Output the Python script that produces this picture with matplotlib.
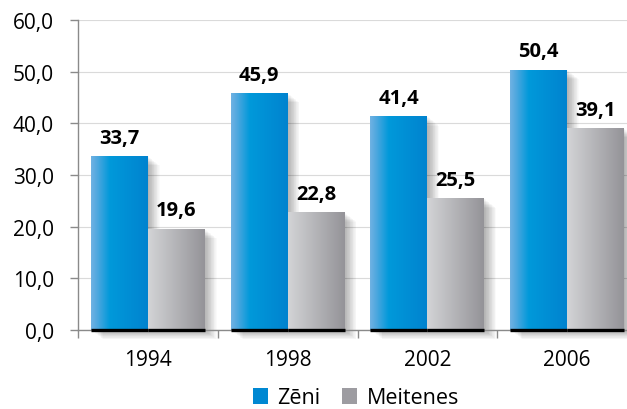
import matplotlib
matplotlib.use("Agg")
import matplotlib.pyplot as plt
import numpy as np
from matplotlib import patheffects as pe
from matplotlib.colors import LinearSegmentedColormap
from matplotlib.patches import Patch
from matplotlib.ticker import FuncFormatter, FixedLocator

years = ["1994", "1998", "2002", "2006"]
zeni = [33.7, 45.9, 41.4, 50.4]
meitenes = [19.6, 22.8, 25.5, 39.1]
series_names = ["Zēni", "Meitenes"]
y_ticks = [0, 10, 20, 30, 40, 50, 60]

plt.rcParams['font.family'] = ['Open Sans', 'DejaVu Sans']

W, H = 627, 410
fig = plt.figure(figsize=(W / 100, H / 100), dpi=100)
ax = fig.add_axes([78 / W, 1 - 331 / H, (637 - 78) / W, (331 - 21) / H])

blue_cmap = LinearSegmentedColormap.from_list(
    "b", [(0, "#70b2e3"), (0.1, "#52a8df"), (0.33, "#0099da"), (1, "#0083cf")])
gray_cmap = LinearSegmentedColormap.from_list(
    "g", [(0, "#d3d4d6"), (1, "#949398")])

x = np.arange(len(years))
w = 0.407

shadow = [pe.SimplePatchShadow(offset=(d, -d * 0.8), shadow_rgbFace="black", alpha=0.02)
          for d in np.linspace(0.5, 8.5, 16)] + [pe.Normal()]

grad = np.linspace(0, 1, 256).reshape(1, -1)
for xs, vals, cmap, mid in [(x - w / 2, zeni, blue_cmap, "#0099da"),
                            (x + w / 2, meitenes, gray_cmap, "#b5b5b8")]:
    bars = ax.bar(xs, vals, width=w, color=mid, zorder=2, clip_on=False,
                  linewidth=0)
    for r, v in zip(bars, vals):
        r.set_path_effects(shadow)
        x0, wd, h = r.get_x(), r.get_width(), r.get_height()
        im = ax.imshow(grad, cmap=cmap, aspect="auto",
                       extent=[x0, x0 + wd, 0, h], zorder=2.5,
                       interpolation="bilinear")
        im.set_clip_path(r)
        ax.hlines(0, x0, x0 + wd, color="black", lw=2.4, zorder=4,
                  clip_on=False)
        ax.annotate(f"{v:.1f}".replace(".", ","), (x0 + wd / 2, h),
                    xytext=(0, 6), textcoords="offset points",
                    ha="center", va="bottom", fontsize=14.5,
                    fontweight="bold", color="black", zorder=5)

ax.set_xlim(-0.5, 3.5)
ax.set_ylim(0, 60)

ax.yaxis.set_major_locator(FixedLocator(y_ticks))
ax.yaxis.set_major_formatter(FuncFormatter(lambda v, p: f"{v:.1f}".replace(".", ",")))
ax.grid(axis="y", color="#dadada", lw=0.8, zorder=0)
ax.set_axisbelow(True)

ax.set_xticks(x)
ax.set_xticklabels(years)
ax.set_xticks(np.arange(-0.5, len(years), 1.0), minor=True)
ax.tick_params(axis="x", which="major", length=0, pad=13.5, labelsize=15)
ax.tick_params(axis="x", which="minor", length=5.8, width=1, color="#8a8a8a",
               direction="out")
ax.tick_params(axis="y", length=5.8, width=1, color="#8a8a8a", pad=11.5,
               labelsize=15, direction="out")

for s in ["top", "right"]:
    ax.spines[s].set_visible(False)
for s in ["left", "bottom"]:
    ax.spines[s].set_color("#8a8a8a")
    ax.spines[s].set_linewidth(1)

handles = [Patch(facecolor="#0088d2", edgecolor="none"),
           Patch(facecolor="#9d9ca1", edgecolor="none")]
fig.legend(handles, series_names, loc="center", bbox_to_anchor=(356 / W, 1 - 399 / H),
           ncol=2, frameon=False, fontsize=15.5, handlelength=0.7,
           handleheight=0.7, handletextpad=0.45, columnspacing=1.0,
           borderpad=0, borderaxespad=0)

fig.savefig("out.png", dpi=100)
